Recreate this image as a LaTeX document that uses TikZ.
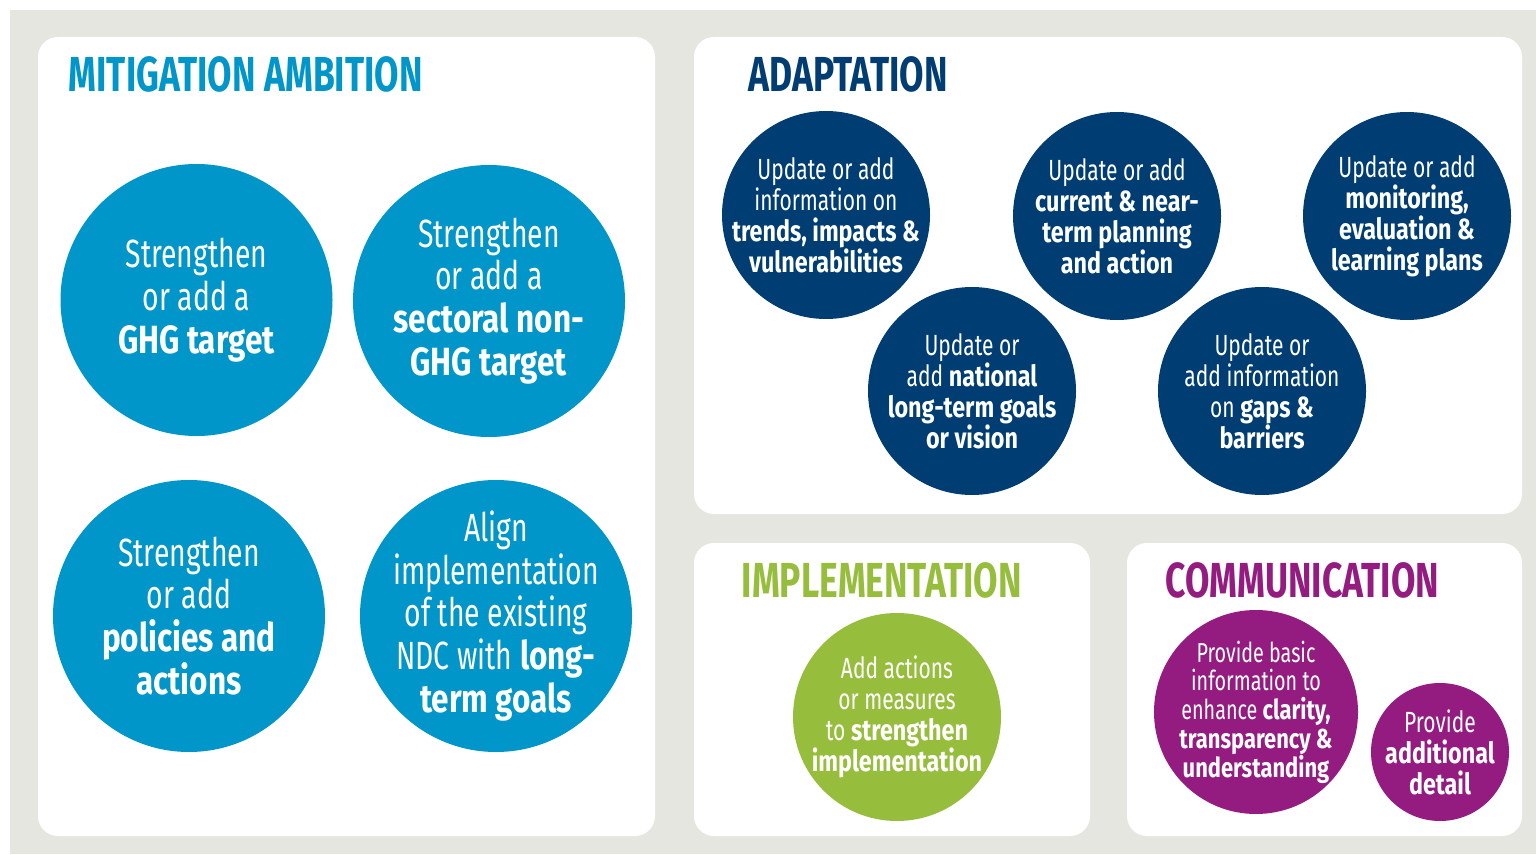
\documentclass[tikz,border=0pt]{standalone}
\usepackage{fontspec}
\setmainfont{Fira Sans}[UprightFeatures={FakeStretch=0.72}, BoldFeatures={FakeStretch=0.80}]
\newfontfamily\headfont{Fira Sans}[FakeStretch=0.72]

\definecolor{mitblue}{RGB}{0,150,201}
\definecolor{adanavy}{RGB}{0,61,115}
\definecolor{impgreen}{RGB}{151,189,61}
\definecolor{compurple}{RGB}{148,28,128}
\definecolor{backgray}{RGB}{230,230,225}

\begin{document}
\begin{tikzpicture}[scale=1,
    panel/.style={fill=white, rounded corners=0.2cm},
    heading/.style={anchor=base west, inner sep=0pt, font=\fontsize{14}{14}\selectfont\headfont\bfseries},
    bubble/.style={circle, inner sep=-12pt, align=center, text=white},
    mitbub/.style={bubble, fill=mitblue, minimum size=2.72cm, font=\fontsize{11.2}{12.2}\selectfont},
    adabub/.style={bubble, fill=adanavy, minimum size=2.08cm, font=\fontsize{8.3}{8.8}\selectfont}]
    \useasboundingbox (0, 0) rectangle (15.36, 8.54);
    \fill[white] (0, 0) rectangle (15.36, 8.54);
    \fill[backgray] (0.10, 0) rectangle (15.36, 8.44);

    % the four boxes
    \fill[panel] (0.38, 0.18) rectangle (6.55, 8.17);
    \fill[panel] (6.94, 3.40) rectangle (15.22, 8.17);
    \fill[panel] (6.94, 0.18) rectangle (10.90, 3.11);
    \fill[panel] (11.27, 0.18) rectangle (15.22, 3.11);

    \node[heading, text=mitblue] (mittitle) at (0.68, 7.62) {MITIGATION AMBITION};
    \node[heading, text=adanavy] (adatitle) at (7.48, 7.62) {ADAPTATION};
    \node[heading, text=impgreen] (imptitle) at (7.41, 2.57) {IMPLEMENTATION};
    \node[heading, text=compurple] (comtitle) at (11.65, 2.57) {COMMUNICATION};

    % mitigation ambition
    \node[mitbub] (ghg) at (1.965, 5.54) {Strengthen\\or add a\\\textbf{GHG target}};
    \node[mitbub] (nonghg) at (4.89, 5.53) {Strengthen\\or add a\\\textbf{sectoral non-}\\\textbf{GHG target}};
    \node[mitbub] (policies) at (1.89, 2.38) {Strengthen\\or add\\\textbf{policies and}\\\textbf{actions}};
    \node[mitbub] (align) at (4.96, 2.38) {Align\\implementation\\of the existing\\NDC with \textbf{long-}\\\textbf{term goals}};

    % adaptation
    \node[adabub] (trends) at (8.26, 6.39) {Update or add\\information on\\\textbf{trends, impacts \&}\\\textbf{vulnerabilities}};
    \node[adabub] (planning) at (11.17, 6.38) {Update or add\\\textbf{current \& near-}\\\textbf{term planning}\\\textbf{and action}};
    \node[adabub] (mel) at (14.07, 6.38) {Update or add\\\textbf{monitoring,}\\\textbf{evaluation \&}\\\textbf{learning plans}};
    \node[adabub] (vision) at (9.72, 4.63) {Update or\\add \textbf{national}\\\textbf{long-term goals}\\\textbf{or vision}};
    \node[adabub] (gaps) at (12.62, 4.63) {Update or\\add information\\on \textbf{gaps \&}\\\textbf{barriers}};

    % implementation and communication
    \node[adabub, fill=impgreen] (measures) at (8.97, 1.37) {Add actions\\or measures\\to \textbf{strengthen}\\\textbf{implementation}};
    \node[adabub, fill=compurple, minimum size=2.04cm, font=\fontsize{7.8}{8.2}\selectfont] (clarity) at (12.56, 1.42) {Provide basic\\information to\\enhance \textbf{clarity,}\\\textbf{transparency \&}\\\textbf{understanding}};
    \node[adabub, fill=compurple, minimum size=1.38cm] (detail) at (14.40, 1.02) {Provide\\\textbf{additional}\\\textbf{detail}};
\end{tikzpicture}
\end{document}
